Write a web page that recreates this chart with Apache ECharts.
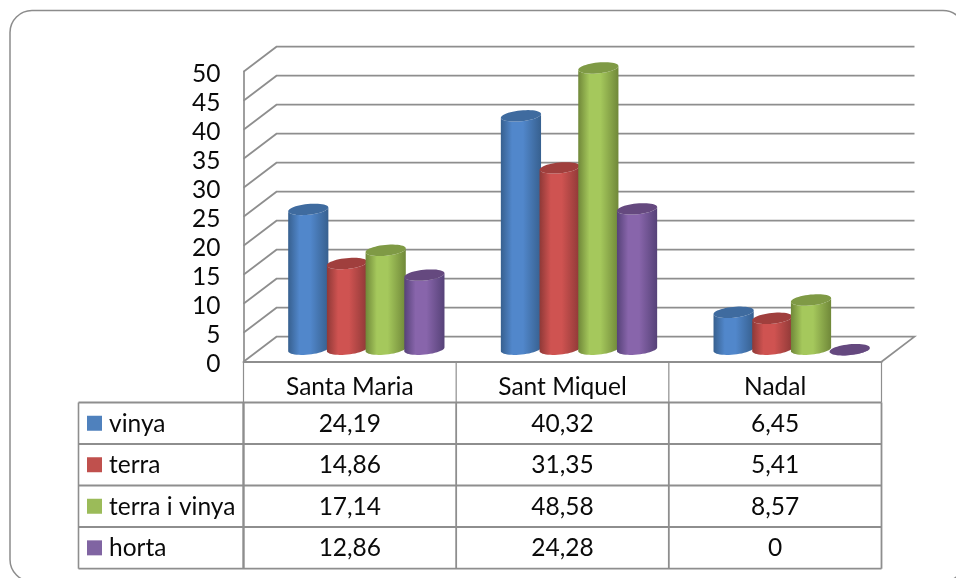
<!DOCTYPE html>
<html><head><meta charset="utf-8">
<style>html,body{margin:0;padding:0;background:#fff}#c{width:956px;height:578px}</style>
<script src="https://cdn.jsdelivr.net/npm/echarts@6/dist/echarts.min.js"></script>
</head><body><div id="c"></div>
<script>
const categories = ['Santa Maria', 'Sant Miquel', 'Nadal'];
const seriesNames = ['vinya', 'terra', 'terra i vinya', 'horta'];
const vinya = [24.19, 40.32, 6.45];
const terra = [14.86, 31.35, 5.41];
const terraVinya = [17.14, 48.58, 8.57];
const horta = [12.86, 24.28, 0];
const yTicks = [0, 5, 10, 15, 20, 25, 30, 35, 40, 45, 50];

const allValues = [vinya, terra, terraVinya, horta];
const palette = [
  {edge:'#37608f', mid:'#5187cb', top:'#3f6b9f', key:'#4f81bd'},
  {edge:'#8f3937', mid:'#cf5351', top:'#a03f3d', key:'#c0504d'},
  {edge:'#708839', mid:'#a5c85c', top:'#7f9a45', key:'#9bbb59'},
  {edge:'#564278', mid:'#8865ab', top:'#65497f', key:'#8064a2'}
];
const G = {left:243.5, top:71.7, width:638, height:290};
const DX = 33, DY = -25;
const LINE = '#8e8e8e';
const chart = echarts.init(document.getElementById('c'), null, {renderer:'canvas'});

function ellipsePts(cx, cy, rx, ry, tilt, a0, a1, n) {
  const out = [], c = Math.cos(tilt), s = Math.sin(tilt);
  for (let i = 0; i <= n; i++) {
    const t = a0 + (a1 - a0) * i / n, x = rx * Math.cos(t), y = ry * Math.sin(t);
    out.push([cx + x * c - y * s, cy + x * s + y * c]);
  }
  return out;
}

function wallItem(params, api) {
  const r = params.coordSys, y = api.coord([0, api.value(0)])[1];
  const pts = [[r.x, y], [r.x + DX, y + DY], [r.x + r.width + DX, y + DY]];
  if (api.value(0) === 0) pts.push([r.x + r.width, y]);
  return {type:'polyline', shape:{points:pts}, style:{fill:null, stroke:LINE, lineWidth:1.7}, silent:true};
}

function barItem(idx) {
  return function (params, api) {
    const p = api.coord([api.value(0), api.value(1)]);
    const base = api.coord([api.value(0), 0]);
    const step = 38.7, rx = 20.2, ry = 5.4, tilt = -0.1;
    const cx = p[0] + DX / 2 + (idx - 1.5) * step;
    const topY = p[1] + DY / 2 + 0.5, botY = base[1] + DY / 2;
    const c = palette[idx];
    const body = ellipsePts(cx, botY, rx, ry, tilt, Math.PI, 0, 24)
      .concat(ellipsePts(cx, topY, rx, ry, tilt, 0, Math.PI, 24));
    return {type:'group', children:[
      {type:'polygon', shape:{points:body}, style:{fill:new echarts.graphic.LinearGradient(0,0,1,0,[
        {offset:0, color:c.edge},{offset:0.28, color:c.mid},{offset:0.55, color:c.mid},{offset:1, color:c.edge}])}},
      {type:'polygon', shape:{points:ellipsePts(cx, topY, rx, ry, tilt, 0, Math.PI * 2, 48)}, style:{fill:c.top}}
    ]};
  };
}

const barSeries = seriesNames.map((name, s) => ({
  name, type:'custom', renderItem:barItem(s), z:3+s, silent:true,
  encode:{x:0, y:1}, clip:false,
  data:categories.map((_, i) => [i, allValues[s][i]])
}));

// data table
const colX = [78.5, G.left, G.left + G.width/3, G.left + G.width*2/3, G.left + G.width];
const rowY = [402.5, 444, 485.5, 527, 568.7];
const font = 'Lato, Carlito, sans-serif', FS = 24.5;
const gr = [];
gr.push({type:'rect', shape:{x:10, y:10.5, width:955, height:571, r:22}, style:{fill:'#fff', stroke:'#8c8c8c', lineWidth:1.5}, z:0, silent:true});
const ln = (x1,y1,x2,y2,w) => gr.push({type:'line', shape:{x1,y1,x2,y2}, style:{stroke:LINE, lineWidth:w}, z:5, silent:true});
rowY.forEach(y => ln(colX[0], y, colX[4], y, 1.8));
colX.forEach((x, i) => ln(x, rowY[0], x, rowY[4], i === 1 ? 2.4 : (i === 0 ? 1.6 : 1.8)));
[1,2,3,4].forEach(i => ln(colX[i], G.top + G.height, colX[i], rowY[0], 1.2));
seriesNames.forEach((name, s) => {
  const cy = (rowY[s] + rowY[s+1]) / 2;
  gr.push({type:'rect', shape:{x:87, y:cy-7.5, width:15, height:15}, style:{fill:palette[s].key}, z:6, silent:true});
  gr.push({type:'text', x:109, y:cy + 0.5, style:{text:name, font:FS+'px '+font, fill:'#0a0a0a', textVerticalAlign:'middle', textAlign:'left'}, z:6, silent:true});
  categories.forEach((_, i) => {
    gr.push({type:'text', x:G.left + (i+0.5)*G.width/3, y:cy + 0.5, style:{text:String(allValues[s][i]).replace('.', ','),
      font:FS+'px '+font, fill:'#0a0a0a', textVerticalAlign:'middle', textAlign:'center'}, z:6, silent:true});
  });
});

chart.setOption({
  animation:false,
  backgroundColor:'#fff',
  grid:{left:G.left, top:G.top, width:G.width, height:G.height},
  xAxis:{type:'category', data:categories, axisTick:{show:false},
    axisLine:{show:true, lineStyle:{color:LINE, width:2}},
    axisLabel:{color:'#0a0a0a', fontFamily:font, fontSize:FS, margin:13}, z:5},
  yAxis:{type:'value', min:0, max:50, interval:5, splitLine:{show:false}, axisTick:{show:false},
    axisLine:{show:true, lineStyle:{color:LINE, width:1.7}},
    axisLabel:{color:'#0a0a0a', fontFamily:font, fontSize:24.5, margin:23, verticalAlign:'top', lineHeight:4}, z:5},
  graphic:gr,
  series:[{type:'custom', name:'wall', renderItem:wallItem, z:2, silent:true, clip:false,
    encode:{y:0}, data:yTicks.map(v => [v])}].concat(barSeries)
});
</script></body></html>
